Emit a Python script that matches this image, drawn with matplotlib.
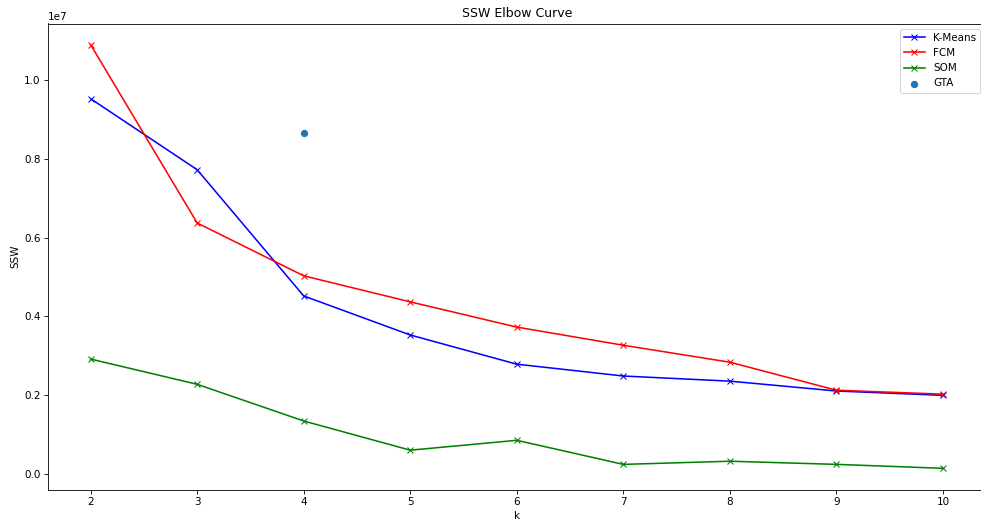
import numpy as np
import matplotlib.pyplot as plt

# SSW for each clustering method over k
k_values = [2, 3, 4, 5, 6, 7, 8, 9, 10]
ssw_kmeans = [0.952e7, 0.772e7, 0.452e7, 0.353e7, 0.279e7, 0.249e7, 0.236e7, 0.211e7, 0.200e7]
ssw_fcm = [1.089e7, 0.637e7, 0.503e7, 0.437e7, 0.373e7, 0.327e7, 0.284e7, 0.213e7, 0.203e7]
ssw_som = [0.292e7, 0.228e7, 0.135e7, 0.061e7, 0.086e7, 0.025e7, 0.033e7, 0.025e7, 0.015e7]
gta_k = [4]
gta_ssw = [0.865e7]

DPI = 75
fig = plt.figure(figsize=(981 / DPI, 520 / DPI), dpi=DPI)
ax = fig.add_axes([48 / 981, 1 - 489.5 / 520, 937.6 / 981, 466 / 520])

ax.plot(k_values, ssw_kmeans, color='blue', marker='x', label='K-Means')
ax.plot(k_values, ssw_fcm, color='red', marker='x', label='FCM')
ax.plot(k_values, ssw_som, color='green', marker='x', label='SOM')
ax.scatter(gta_k, gta_ssw, label='GTA')

ax.set_title('SSW Elbow Curve')
ax.set_xlabel('k')
ax.set_ylabel('SSW')
ax.set_xticks(k_values)
ax.legend(loc='upper right')

fig.savefig('out.png', dpi=DPI)
